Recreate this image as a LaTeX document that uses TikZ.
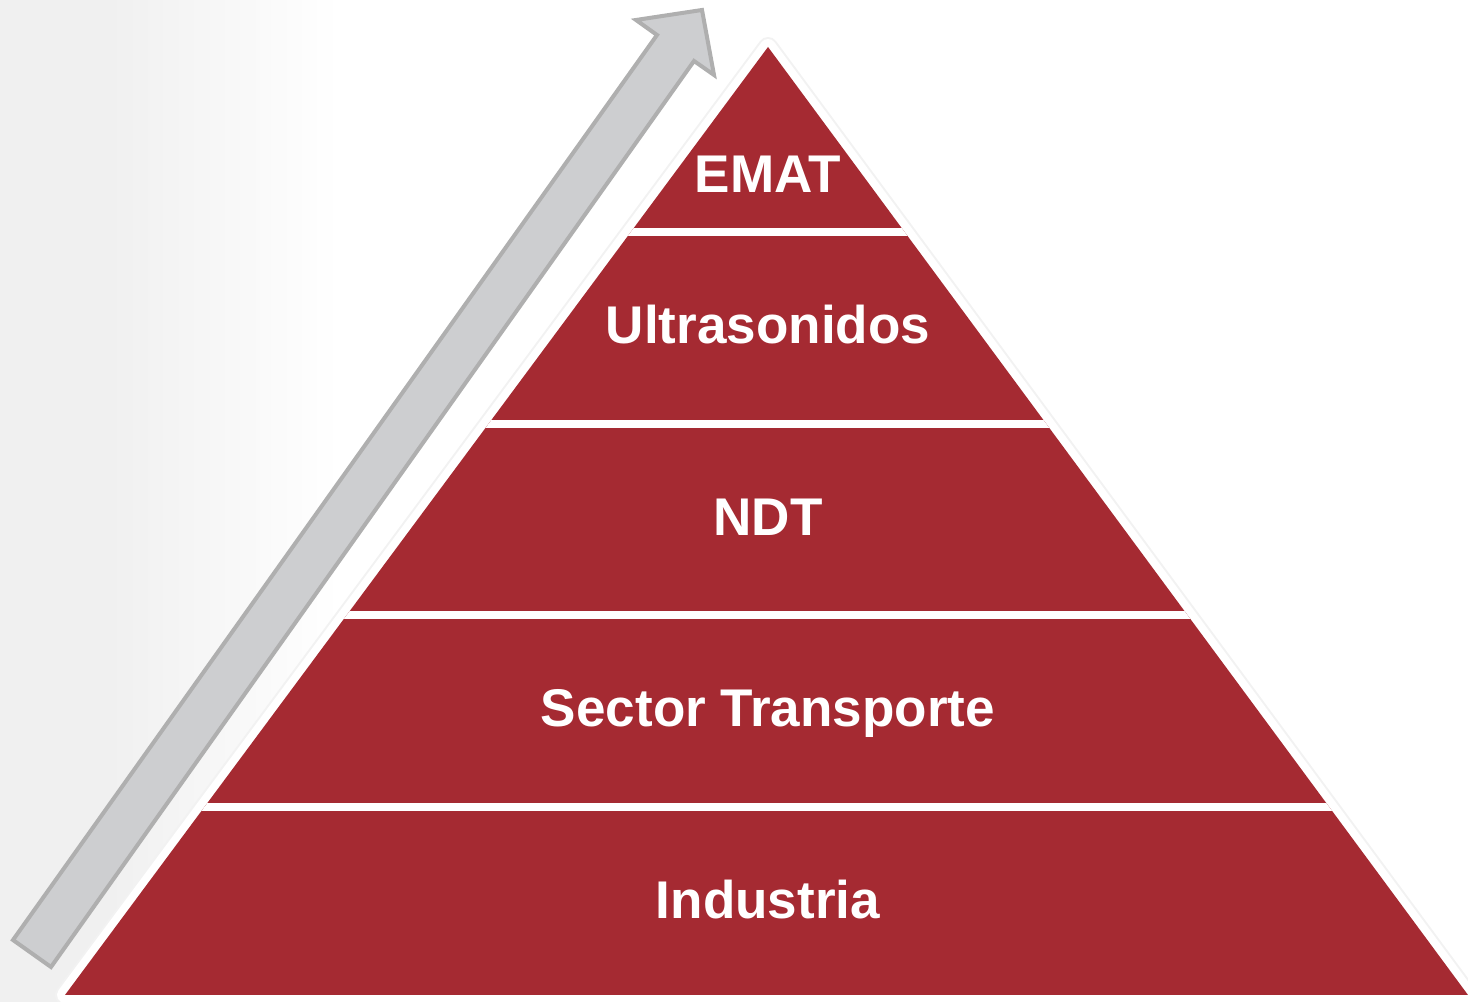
\documentclass[tikz,border=0pt]{standalone}
\usepackage{fontspec}
\setmainfont{Liberation Sans}

\definecolor{rouge}{HTML}{A52A32}
\definecolor{gris}{HTML}{CDCED0}
\definecolor{bordgris}{HTML}{AFAFAF}
\definecolor{fond}{HTML}{F0F0F0}

\tikzset{
  etage/.style={anchor=base, inner sep=0pt, text=white,
    font=\bfseries\fontsize{15.1}{18}\selectfont},
}

\begin{document}
\begin{tikzpicture}[x=0.1mm, y=-0.1mm]
    \useasboundingbox (0,0) rectangle (1468,1002);

    % Fond dégradé à gauche
    \fill[fond] (0,0) rectangle (110,1002);
    \shade[left color=fond, right color=white] (109,0) rectangle (340,1002);

    % Coordonnées des sommets
    \coordinate (A) at (768,47);
    \coordinate (B) at (65,995);
    \coordinate (C) at (1468,995);

    % Ombre légère et bord blanc
    \draw[black!5, line width=2mm, line join=round] (A) -- (B) -- (C) -- cycle;
    \draw[white, line width=1.6mm, line join=round] (A) -- (B) -- (C) -- cycle;

    % Pyramide
    \fill[rouge] (A) -- (B) -- (C) -- cycle;

    % Séparations entre les étages
    \begin{scope}
        \clip (A) -- (B) -- (C) -- cycle;
        \foreach \y in {232,424,615,807}
            \draw[white, line width=0.8mm] (0,\y) -- (1468,\y);
    \end{scope}

    % Flèche montante
    \draw[fill=gris, draw=bordgris, line width=0.4mm, line join=miter]
        (13,940) -- (657,35) -- (636,20) -- (702,10) -- (714,75)
        -- (694,61) -- (51,967) -- cycle;

    % Étiquettes
    \node[etage] (emat) at (768,193) {EMAT};
    \node[etage] (ultra) at (768,344) {Ultrasonidos};
    \node[etage] (ndt) at (768,536) {NDT};
    \node[etage] (sector) at (768,727) {Sector Transporte};
    \node[etage] (industria) at (768,919) {Industria};
\end{tikzpicture}
\end{document}
